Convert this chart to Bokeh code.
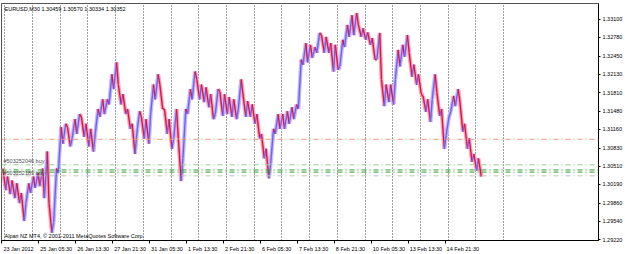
from bokeh.plotting import figure
from bokeh.models import Range1d, FixedTicker, Span, Label, ColumnDataSource, PrintfTickFormatter
from bokeh.embed import file_html
from bokeh.resources import INLINE

# ---------------- data ----------------
symbol = "EURUSD,M30"
quote_values = ["1.30459", "1.30570", "1.30334", "1.30352"]
broker_text = "Alpari NZ MT4, \u00a9 2001-2011 MetaQuotes Software Corp."

bars_per_sample = 8
highs = [1.3047, 1.3033, 1.3026, 1.3021, 1.3004, 1.3021, 1.3033, 1.3039, 1.3047, 1.3077,
         1.2986, 1.3047, 1.3120, 1.3126, 1.3120, 1.3134, 1.3143, 1.3138, 1.3126, 1.3117,
         1.3152, 1.3169, 1.3169, 1.3213, 1.3234, 1.3195, 1.3178, 1.3152, 1.3126, 1.3148,
         1.3138, 1.3134, 1.3195, 1.3213, 1.3195, 1.3152, 1.3134, 1.3152, 1.3100, 1.3152,
         1.3187, 1.3218, 1.3204, 1.3195, 1.3190, 1.3178, 1.3187, 1.3183, 1.3178, 1.3173,
         1.3169, 1.3204, 1.3178, 1.3166, 1.3160, 1.3143, 1.3108, 1.3082, 1.3117, 1.3143,
         1.3143, 1.3148, 1.3155, 1.3160, 1.3239, 1.3268, 1.3265, 1.3261, 1.3286, 1.3282,
         1.3279, 1.3268, 1.3265, 1.3274, 1.3300, 1.3317, 1.3321, 1.3300, 1.3294, 1.3287,
         1.3277, 1.3286, 1.3204, 1.3195, 1.3195, 1.3256, 1.3265, 1.3282, 1.3251, 1.3230,
         1.3213, 1.3175, 1.3169, 1.3213, 1.3181, 1.3152, 1.3138, 1.3175, 1.3187, 1.3164,
         1.3126, 1.3100, 1.3073, 1.3065]
lows = [1.3009, 1.3002, 1.2995, 1.2986, 1.2955, 1.2986, 1.3004, 1.3013, 1.3016, 1.2995,
        1.2934, 1.2952, 1.3039, 1.3091, 1.3086, 1.3100, 1.3108, 1.3103, 1.3086, 1.3077,
        1.3108, 1.3138, 1.3143, 1.3160, 1.3187, 1.3160, 1.3143, 1.3117, 1.3073, 1.3108,
        1.3100, 1.3091, 1.3143, 1.3169, 1.3152, 1.3108, 1.3082, 1.3100, 1.3025, 1.3065,
        1.3143, 1.3169, 1.3169, 1.3164, 1.3155, 1.3134, 1.3143, 1.3140, 1.3143, 1.3138,
        1.3134, 1.3152, 1.3138, 1.3138, 1.3126, 1.3100, 1.3065, 1.3030, 1.3056, 1.3108,
        1.3117, 1.3117, 1.3126, 1.3134, 1.3152, 1.3230, 1.3234, 1.3242, 1.3251, 1.3251,
        1.3251, 1.3218, 1.3221, 1.3227, 1.3261, 1.3279, 1.3282, 1.3279, 1.3274, 1.3265,
        1.3239, 1.3239, 1.3157, 1.3164, 1.3160, 1.3204, 1.3227, 1.3244, 1.3209, 1.3195,
        1.3178, 1.3147, 1.3129, 1.3169, 1.3140, 1.3082, 1.3105, 1.3147, 1.3157, 1.3112,
        1.3082, 1.3059, 1.3044, 1.3033]

time_labels = ["23 Jan 2012", "25 Jan 05:30", "26 Jan 13:30", "27 Jan 21:30", "31 Jan 05:30",
               "1 Feb 13:30", "2 Feb 21:30", "6 Feb 05:30", "7 Feb 13:30", "8 Feb 21:30",
               "10 Feb 05:30", "13 Feb 13:30", "14 Feb 21:30"]
time_label_bars = [0, 64, 128, 192, 256, 320, 384, 448, 512, 576, 640, 704, 768]
day_start_bars = [5, 53, 101, 149, 197, 245, 293, 341, 389, 437, 485, 533, 581, 629, 677,
                  725, 773, 821, 869]

price_ticks = [1.33100, 1.32780, 1.32450, 1.32130, 1.31810, 1.31480, 1.31160, 1.30830,
               1.30510, 1.30190, 1.29860, 1.29540, 1.29220]
current_price = 1.30352
level_price = 1.30986
order_prices = [1.30537, 1.30446, 1.30408]
order_names = ["#503252046 buy", "#503252185 buy"]
bid_price = 1.30342

# ---------------- layout constants ----------------
W, H = 625, 254
PX_PER_BAR = 0.581
FRAME_LEFT = 1
FRAME_W = 601
FONT = "Liberation Sans"
FS = "5.5px"

x_start = -(1.5 - FRAME_LEFT) / PX_PER_BAR
x_end = x_start + FRAME_W / PX_PER_BAR
y_start, y_end = 1.29203, 1.33378

p = figure(width=W, height=H, output_backend="svg", toolbar_location=None,
           x_range=Range1d(x_start, x_end), y_range=Range1d(y_start, y_end),
           y_axis_location="right")
p.min_border_left = FRAME_LEFT
p.min_border_right = 0
p.min_border_top = 3
p.min_border_bottom = 0
p.background_fill_color = "white"
p.border_fill_color = "white"
p.outline_line_color = "#555555"

# ---------------- price data: jagged stroke through each sample's low/high ----------------
BULL, BEAR = "#6F62F2", "#DC1448"
BULL_PALE, BEAR_PALE = "#C2BAF6", "#F4A8BA"
px, py = [], []
prev_mid = None
for i in range(len(highs)):
    left = i * bars_per_sample
    mid = (highs[i] + lows[i]) / 2
    up = prev_mid is not None and mid > prev_mid
    first, second = (lows[i], highs[i]) if up else (highs[i], lows[i])
    px += [left + 1.5, left + bars_per_sample - 1.5]
    py += [first, second]
    prev_mid = mid

x0, y0, x1, y1, sc, pc = [], [], [], [], [], []
for k in range(len(px) - 1):
    x0.append(px[k]); y0.append(py[k]); x1.append(px[k + 1]); y1.append(py[k + 1])
    rising = py[k + 1] > py[k]
    sc.append(BULL if rising else BEAR)
    pc.append(BULL_PALE if rising else BEAR_PALE)

src = ColumnDataSource(dict(x0=x0, y0=y0, x1=x1, y1=y1, sc=sc, pc=pc))
p.segment(x0="x0", y0="y0", x1="x1", y1="y1", line_color="pc", line_width=4, source=src)
p.segment(x0="x0", y0="y0", x1="x1", y1="y1", line_color="sc", line_width=1.4, source=src)

# ---------------- grid ----------------
p.ygrid.grid_line_color = None
p.xgrid.ticker = FixedTicker(ticks=day_start_bars)
p.xgrid.grid_line_color = "#404040"
p.xgrid.grid_line_dash = "1 2"
p.xgrid.grid_line_width = 1

# ---------------- levels ----------------
p.add_layout(Span(location=level_price, dimension="width", line_color="#F4967A",
                  line_dash="5 3 1 3", line_width=1))
for pr, col in zip(order_prices, ["#8ED48E", "#2E9E2E", "#2E9E2E"]):
    p.add_layout(Span(location=pr, dimension="width", line_color=col,
                      line_dash="5 3 1 3", line_width=1))
p.add_layout(Span(location=bid_price, dimension="width", line_color="#C0C0C0",
                  line_dash="5 3 1 3", line_width=1))

# ---------------- axes ----------------
ya = p.yaxis[0]
ya.ticker = FixedTicker(ticks=price_ticks)
ya.formatter = PrintfTickFormatter(format="%.5f")
ya.major_label_text_font = FONT
ya.major_label_text_font_size = FS
ya.major_label_text_color = "black"
ya.axis_line_color = "black"
ya.major_tick_out = 2
ya.major_tick_in = 0
ya.minor_tick_out = 0
ya.minor_tick_in = 0
ya.major_label_standoff = 2

char_w = {"0": 556, "1": 556, "2": 556, "3": 556, "4": 556, "5": 556, "6": 556, "7": 556,
          "8": 556, "9": 556, " ": 278, ":": 278, "J": 500, "a": 556, "n": 556, "F": 611,
          "e": 556, "b": 556}
fs_px = 5.5
label_centers = []
overrides = {}
for b, t in zip(time_label_bars, time_labels):
    wpx = sum(char_w.get(ch, 556) for ch in t) / 1000 * fs_px
    cx = round(b + (wpx / 2 + 1.5) / PX_PER_BAR, 3)
    label_centers.append(cx)
    overrides[cx] = t

xa = p.xaxis[0]
xa.ticker = FixedTicker(ticks=label_centers, minor_ticks=time_label_bars)
xa.major_label_overrides = overrides
xa.major_label_text_font = FONT
xa.major_label_text_font_size = FS
xa.major_label_text_color = "black"
xa.axis_line_color = "black"
xa.major_tick_out = 0
xa.major_tick_in = 0
xa.minor_tick_out = 3
xa.minor_tick_in = 0
xa.minor_tick_line_color = "black"
xa.major_label_standoff = 2

# ---------------- texts ----------------
p.add_layout(Label(x=x_start, y=y_end, x_offset=3, y_offset=-2, text_baseline="top",
                   text=symbol + "  " + " ".join(quote_values),
                   text_font=FONT, text_font_size=FS, text_color="black"))
p.add_layout(Label(x=x_start, y=y_start, x_offset=3, y_offset=2, text_baseline="bottom",
                   text=broker_text, text_font=FONT, text_font_size=FS, text_color="black"))
p.add_layout(Label(x=x_start, y=order_prices[0], x_offset=2, y_offset=1, text_baseline="bottom",
                   text=order_names[0], text_font=FONT, text_font_size=FS, text_color="#505050"))
p.add_layout(Label(x=x_start, y=order_prices[2], x_offset=2, y_offset=-1, text_baseline="middle",
                   text=order_names[1], text_font=FONT, text_font_size=FS, text_color="#505050"))
p.add_layout(Label(x=x_end, y=current_price, x_offset=1, text_baseline="middle",
                   text="%.5f" % current_price, text_font=FONT, text_font_size=FS,
                   text_color="white", background_fill_color="black"))

open("out.html", "w").write(file_html(p, INLINE))
